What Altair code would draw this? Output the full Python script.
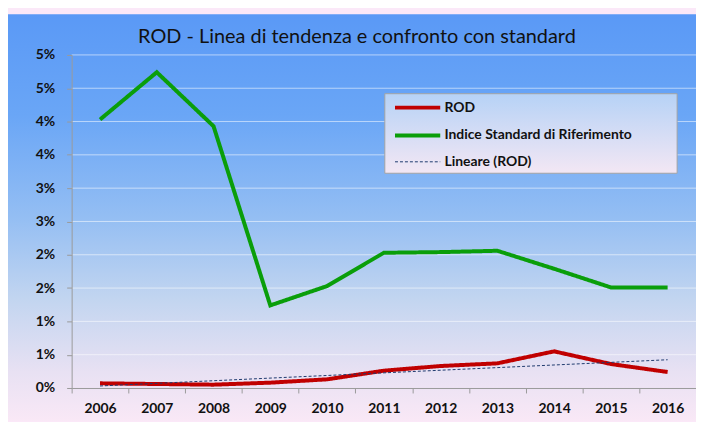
import altair as alt
import pandas as pd

# ---- data ----
years = [2006, 2007, 2008, 2009, 2010, 2011, 2012, 2013, 2014, 2015, 2016]
rod_pct = [0.07, 0.06, 0.05, 0.08, 0.13, 0.26, 0.33, 0.37, 0.55, 0.36, 0.24]
standard_pct = [4.03, 4.74, 3.93, 1.24, 1.53, 2.03, 2.04, 2.06, 1.79, 1.51, 1.51]
y_ticks = [0, 0.005, 0.01, 0.015, 0.02, 0.025, 0.03, 0.035, 0.04, 0.045, 0.05]
y_tick_labels = ["0%", "1%", "1%", "2%", "2%", "3%", "3%", "4%", "4%", "5%", "5%"]
series_names = ["ROD", "Indice Standard di Riferimento", "Lineare (ROD)"]
series_colors = ["#c00000", "#0a9e0a", "#1f3a6e"]
series_dash = [[1, 0], [1, 0], [3, 2]]
series_width = [4, 4, 1]
title_text = "ROD - Linea di tendenza e confronto con standard"

W, H = 628, 335
FONT = "Lato"

df = pd.DataFrame({
    "anno": years + years,
    "serie": [series_names[0]] * len(years) + [series_names[1]] * len(years),
    "valore": [v / 100 for v in rod_pct] + [v / 100 for v in standard_pct],
})
grid_df = pd.DataFrame({"valore": y_ticks[1:]})

label_expr = "[" + ",".join(f"'{s}'" for s in y_tick_labels) + "][round(datum.value*200)]"

x_enc = alt.X(
    "anno:N",
    scale=alt.Scale(type="band", paddingInner=0, paddingOuter=0),
    axis=alt.Axis(
        title=None, labelAngle=0, grid=False, tickBand="extent",
        domainColor="#9a9a9a", tickColor="#9a9a9a", tickSize=5,
        labelFont=FONT, labelFontWeight="bold", labelFontSize=14,
        labelColor="#111111", labelPadding=9, zindex=1,
    ),
)
y_enc = alt.Y(
    "valore:Q",
    scale=alt.Scale(domain=[0, 0.05], nice=False, zero=True),
    axis=alt.Axis(
        title=None, values=y_ticks, labelExpr=label_expr, grid=False,
        labelOverlap=False, labelFlush=False, tickCount=11,
        domainColor="#9a9a9a", tickColor="#9a9a9a", tickSize=5,
        labelFont=FONT, labelFontWeight="bold", labelFontSize=14,
        labelColor="#111111", labelPadding=12, zindex=1,
    ),
)

# legend symbol: a horizontal stroke about 45px long (path spans 3*sqrt(size))
legend = alt.Legend(
    title=None, orient="none", legendX=338, legendY=43,
    symbolType="M-3,0H3", symbolSize=230, rowPadding=10, padding=0,
    labelFont=FONT, labelFontWeight="bold", labelFontSize=14, labelLimit=400,
    labelColor="#111111", labelOffset=17, zindex=1,
)
color_enc = alt.Color("serie:N", scale=alt.Scale(domain=series_names, range=series_colors), legend=legend)
dash_enc = alt.StrokeDash("serie:N", scale=alt.Scale(domain=series_names, range=series_dash), legend=legend)
width_enc = alt.StrokeWidth(
    "serie:N", scale=alt.Scale(type="ordinal", domain=series_names, range=series_width), legend=legend
)

bg_gradient = {
    "gradient": "linear", "x1": 0, "y1": 0, "x2": 0, "y2": 1,
    "stops": [
        {"offset": 0, "color": "#5a99f6"},
        {"offset": 0.25, "color": "#6aa6f6"},
        {"offset": 0.5, "color": "#94bef3"},
        {"offset": 0.7, "color": "#c2d5f0"},
        {"offset": 0.88, "color": "#e8e1f3"},
        {"offset": 1, "color": "#f9e8f6"},
    ],
}
legend_gradient = {
    "gradient": "linear", "x1": 0, "y1": 0, "x2": 0, "y2": 1,
    "stops": [
        {"offset": 0, "color": "#b6d2f6"},
        {"offset": 1, "color": "#f3e7f4"},
    ],
}

one = alt.Data(values=[{}])

bg = alt.Chart(one).mark_rect(fill=bg_gradient).encode(
    x=alt.value(-64), x2=alt.value(W), y=alt.value(-41), y2=alt.value(H + 33)
)
grid = alt.Chart(grid_df).mark_rule(
    color="white", opacity=0.55, strokeWidth=1
).encode(y=y_enc)
legend_box = alt.Chart(one).mark_rect(fill=legend_gradient, stroke="#a3a3a3", strokeWidth=1).encode(
    x=alt.value(315), x2=alt.value(609), y=alt.value(39), y2=alt.value(119)
)
lines = alt.Chart(df).mark_line().encode(
    x=x_enc, y=y_enc, color=color_enc, strokeDash=dash_enc, strokeWidth=width_enc
)
trend = alt.Chart(df).transform_filter(
    alt.datum.serie == series_names[0]
).transform_regression("anno", "valore").transform_calculate(
    serie=f"'{series_names[2]}'"
).mark_line().encode(
    x=x_enc, y=y_enc, color=color_enc, strokeDash=dash_enc, strokeWidth=width_enc
)

chart = alt.layer(bg, grid, legend_box, lines, trend).properties(
    width=W, height=H,
    title=alt.TitleParams(
        title_text, font=FONT, fontSize=20, fontWeight="normal", color="#111111",
        anchor="middle", frame="group", baseline="alphabetic", dx=-27, dy=49, offset=0,
    ),
    autosize=alt.AutoSizeParams(type="none"),
    padding={"left": 64, "top": 46, "right": 0, "bottom": 33},
    background="#fbe8f8",
).configure_view(stroke=None)

chart.save("out.html", embed_options={"renderer": "svg", "actions": False})
